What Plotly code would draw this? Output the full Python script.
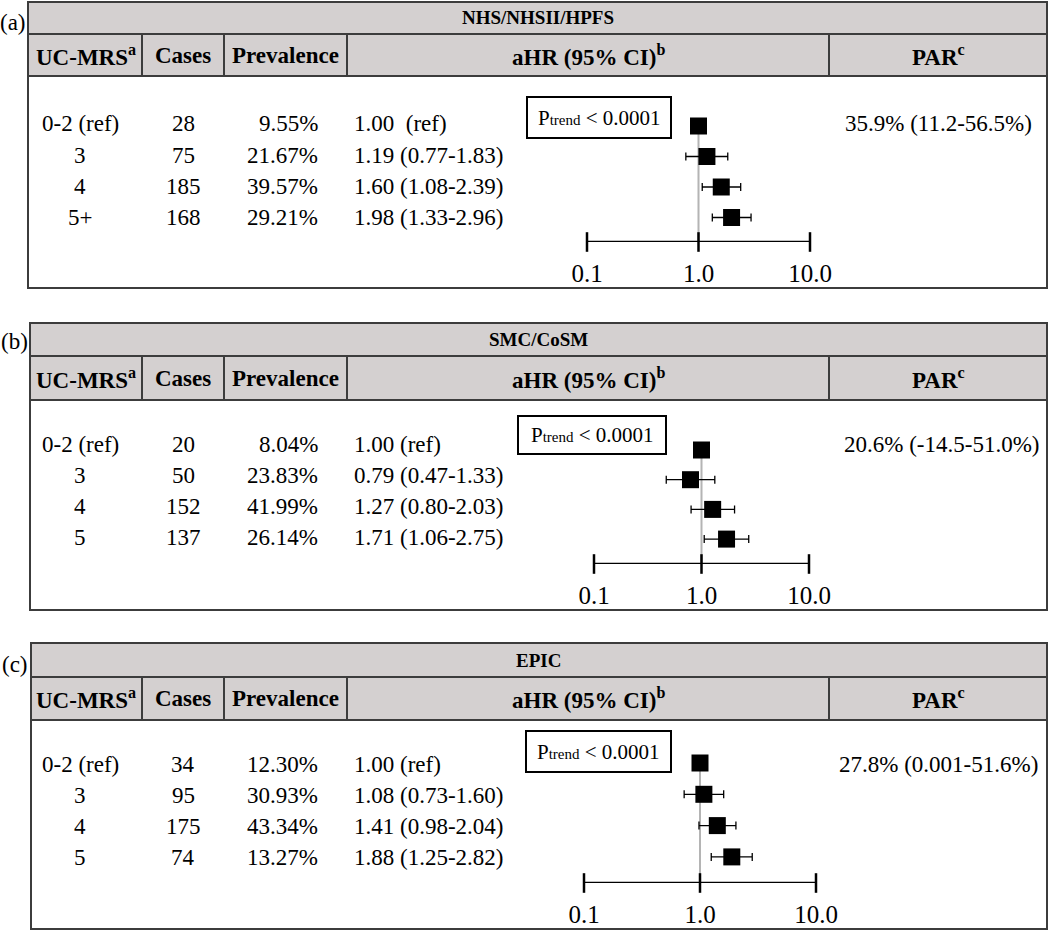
import plotly.graph_objects as go

W, H = 1050, 931
FONT = "Liberation Serif"

# ---------------- data ----------------
panel_labels = ["(a)", "(b)", "(c)"]
cohorts = ["NHS/NHSII/HPFS", "SMC/CoSM", "EPIC"]
headers = ["UC-MRS<sup>a</sup>", "Cases", "Prevalence", "aHR (95% CI)<sup>b</sup>", "PAR<sup>c</sup>"]

score_a = ["0-2 (ref)", "3", "4", "5+"]
cases_a = [28, 75, 185, 168]
prev_a = ["9.55%", "21.67%", "39.57%", "29.21%"]
hr_a = [1.00, 1.19, 1.60, 1.98]
lo_a = [1.00, 0.77, 1.08, 1.33]
hi_a = [1.00, 1.83, 2.39, 2.96]
hrtxt_a = ["1.00  (ref)", "1.19 (0.77-1.83)", "1.60 (1.08-2.39)", "1.98 (1.33-2.96)"]
par_a = "35.9% (11.2-56.5%)"

score_b = ["0-2 (ref)", "3", "4", "5"]
cases_b = [20, 50, 152, 137]
prev_b = ["8.04%", "23.83%", "41.99%", "26.14%"]
hr_b = [1.00, 0.79, 1.27, 1.71]
lo_b = [1.00, 0.47, 0.80, 1.06]
hi_b = [1.00, 1.33, 2.03, 2.75]
hrtxt_b = ["1.00 (ref)", "0.79 (0.47-1.33)", "1.27 (0.80-2.03)", "1.71 (1.06-2.75)"]
par_b = "20.6% (-14.5-51.0%)"

score_c = ["0-2 (ref)", "3", "4", "5"]
cases_c = [34, 95, 175, 74]
prev_c = ["12.30%", "30.93%", "43.34%", "13.27%"]
hr_c = [1.00, 1.08, 1.41, 1.88]
lo_c = [1.00, 0.73, 0.98, 1.25]
hi_c = [1.00, 1.60, 2.04, 2.82]
hrtxt_c = ["1.00 (ref)", "1.08 (0.73-1.60)", "1.41 (0.98-2.04)", "1.88 (1.25-2.82)"]
par_c = "27.8% (0.001-51.6%)"

ptrend = "P<span style='font-size:15px'>trend</span> &lt; 0.0001"
axis_ticks = [0.1, 1, 10]
axis_ticktext = ["0.1", "1.0", "10.0"]

panels = [
    dict(score=score_a, cases=cases_a, prev=prev_a, hr=hr_a, lo=lo_a, hi=hi_a, hrtxt=hrtxt_a, par=par_a),
    dict(score=score_b, cases=cases_b, prev=prev_b, hr=hr_b, lo=lo_b, hi=hi_b, hrtxt=hrtxt_b, par=par_b),
    dict(score=score_c, cases=cases_c, prev=prev_c, hr=hr_c, lo=lo_c, hi=hi_c, hrtxt=hrtxt_c, par=par_c),
]

# ---------------- layout geometry (pixels) ----------------
geo = [
    dict(left=28, top=2, tband=34, hbot=76, bot=288, lab=(13, 22), t0=124, ts=31.3,
         r0=126, s=30.5, axis=242, x01=587, x10=810, gtop=118,
         box=(527, 97, 671, 138), par_x=938, par_y=124),
    dict(left=30, top=323, tband=356, hbot=400, bot=610, lab=(14, 342), t0=444, ts=31.3,
         r0=450, s=29.7, axis=564, x01=594, x10=809, gtop=442,
         box=(518, 416, 666, 454), par_x=941, par_y=444),
    dict(left=31, top=643, tband=677, hbot=720, bot=929, lab=(15, 664), t0=764, ts=31.3,
         r0=763, s=31.3, axis=883, x01=584, x10=816, gtop=755,
         box=(526, 731, 671, 772), par_x=938, par_y=764),
]
RIGHT = 1047
col_lines = [142, 224, 347, 829]
head_x = [86, 183, 285, 588, 938]
GREY = "#d4d0d0"
EDGE = "#3c3c3c"


def px(x):
    return x / W


def py(y):
    return 1 - y / H


def txt(x, y, text, size=23, xanchor="center", bold=False):
    return dict(x=px(x), y=py(y), xref="paper", yref="paper", xanchor=xanchor, yanchor="middle",
                text=("<b>" + text + "</b>") if bold else text, showarrow=False,
                font=dict(size=size, family=FONT, color="black"))


fig = go.Figure()
shapes = []
annotations = []

for i, (p, g) in enumerate(zip(panels, geo)):
    n = "" if i == 0 else str(i + 1)
    xa, ya = "x" + n, "y" + n
    # table fills and borders
    shapes.append(dict(type="rect", xref="paper", yref="paper", x0=px(g["left"]), x1=px(RIGHT),
                       y0=py(g["hbot"]), y1=py(g["top"]), fillcolor=GREY, line_width=0, layer="below"))
    shapes.append(dict(type="rect", xref="paper", yref="paper", x0=px(g["left"]), x1=px(RIGHT),
                       y0=py(g["bot"]), y1=py(g["top"]), line=dict(color=EDGE, width=2)))
    for yy in (g["tband"], g["hbot"]):
        shapes.append(dict(type="line", xref="paper", yref="paper", x0=px(g["left"]), x1=px(RIGHT),
                           y0=py(yy), y1=py(yy), line=dict(color=EDGE, width=2)))
    for cx in col_lines:
        shapes.append(dict(type="line", xref="paper", yref="paper", x0=px(cx), x1=px(cx),
                           y0=py(g["tband"]), y1=py(g["hbot"]), line=dict(color=EDGE, width=2)))
    # panel label and titles
    annotations.append(txt(g["lab"][0], g["lab"][1], panel_labels[i], size=23))
    annotations.append(txt(538, (g["top"] + g["tband"]) / 2, cohorts[i], size=19, bold=True))
    hy = (g["tband"] + g["hbot"]) / 2
    for hx, ht in zip(head_x, headers):
        annotations.append(txt(hx, hy, ht, size=23, bold=True))
    # rows of text
    for r in range(4):
        yy = g["t0"] + r * g["ts"]
        annotations.append(txt(80, yy, p["score"][r]))
        annotations.append(txt(183, yy, str(p["cases"][r])))
        annotations.append(txt(320, yy, p["prev"][r], xanchor="right"))
        annotations.append(txt(352, yy, p["hrtxt"][r], xanchor="left"))
    annotations.append(txt(g["par_x"], g["par_y"], p["par"]))
    # p-trend box
    bx0, by0, bx1, by1 = g["box"]
    shapes.append(dict(type="rect", xref="paper", yref="paper", x0=px(bx0), x1=px(bx1), y0=py(by1), y1=py(by0),
                       line=dict(color="black", width=2), fillcolor="white"))
    annotations.append(txt((bx0 + bx1) / 2, (by0 + by1) / 2, ptrend, size=21))

    # forest plot axes
    axis_row = (g["axis"] - g["r0"]) / g["s"]
    top_row = -0.7
    ytop_px = g["r0"] + top_row * g["s"]
    gtop_row = (g["gtop"] - g["r0"]) / g["s"]
    fig.update_layout(**{
        "xaxis" + n: dict(type="log", range=[-1, 1], domain=[px(g["x01"]), px(g["x10"])], anchor=ya,
                          tickvals=axis_ticks, ticktext=axis_ticktext, ticks="outside", ticklen=9,
                          tickcolor="rgba(0,0,0,0)", showgrid=False, zeroline=False, showline=False,
                          tickfont=dict(size=25, family=FONT, color="black")),
        "yaxis" + n: dict(range=[axis_row, top_row], domain=[py(g["axis"]), py(ytop_px)], anchor=xa,
                          showticklabels=False, showgrid=False, zeroline=False, showline=False, ticks=""),
    })
    shapes.append(dict(type="line", xref=xa, yref=ya, x0=1, x1=1, y0=gtop_row, y1=axis_row,
                       line=dict(color="#b4b4b4", width=2), layer="below"))
    # axis line with crossing ticks
    fig.add_trace(go.Scatter(x=axis_ticks, y=[axis_row] * len(axis_ticks), xaxis=xa, yaxis=ya,
                             mode="lines+markers", line=dict(color="black", width=2.5),
                             marker=dict(symbol="line-ns", size=14, line=dict(color="black", width=2.5)),
                             hoverinfo="skip", showlegend=False, cliponaxis=False))
    # estimates with CI
    rows = list(range(len(p["hr"])))
    err_plus = [h - m for h, m in zip(p["hi"], p["hr"])]
    err_minus = [m - l for m, l in zip(p["hr"], p["lo"])]
    fig.add_trace(go.Scatter(x=p["hr"], y=rows, xaxis=xa, yaxis=ya, mode="markers",
                             marker=dict(symbol="square", size=17, color="black"),
                             error_x=dict(type="data", symmetric=False, array=err_plus, arrayminus=err_minus,
                                          color="black", thickness=1.3, width=4),
                             showlegend=False, cliponaxis=False))

fig.update_layout(width=W, height=H, margin=dict(l=0, r=0, t=0, b=0, autoexpand=False), autosize=False,
                  paper_bgcolor="white", plot_bgcolor="rgba(0,0,0,0)",
                  shapes=shapes, annotations=annotations, showlegend=False,
                  font=dict(family=FONT, color="black"))
fig.write_html("out.html", config={"displayModeBar": False},
               post_script="document.body.style.margin='0px';")
